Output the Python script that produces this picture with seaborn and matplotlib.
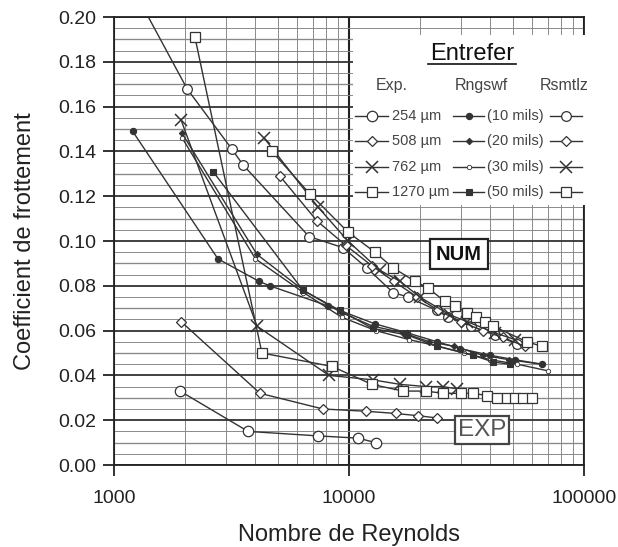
import numpy as np
import pandas as pd
import matplotlib
matplotlib.use("Agg")
import matplotlib.pyplot as plt
import seaborn as sns
from matplotlib.ticker import FixedLocator, MultipleLocator, NullFormatter

# --- data (Reynolds number, friction coefficient) ---
exp_254_re = [1910, 3720, 7380, 10900, 13000]
exp_254_f = [0.033, 0.015, 0.013, 0.012, 0.010]

exp_508_re = [1930, 4180, 7750, 11800, 15800, 19700, 23700]
exp_508_f = [0.064, 0.032, 0.025, 0.024, 0.023, 0.022, 0.021]

exp_762_re = [1930, 4060, 8220, 12650, 16500, 21300, 25100, 28800]
exp_762_f = [0.154, 0.062, 0.040, 0.038, 0.036, 0.035, 0.035, 0.034]

exp_1270_re = [2210, 4260, 8470, 12500, 17000, 21300, 25100, 30000, 33700,
               38700, 42600, 47000, 50900, 55000, 60100]
exp_1270_f = [0.191, 0.050, 0.044, 0.036, 0.033, 0.033, 0.032, 0.032, 0.032,
              0.031, 0.030, 0.030, 0.030, 0.030, 0.030]

rng_10_re = [1200, 2770, 4140, 4600, 8150, 12900, 17700, 23700, 29700, 39700, 50800, 66300]
rng_10_f = [0.149, 0.092, 0.082, 0.080, 0.071, 0.063, 0.059, 0.055, 0.052, 0.049, 0.047, 0.045]

rng_20_re = [1950, 4060, 6400, 9300, 12600, 17000, 22000, 28000, 37000, 48000, 66000]
rng_20_f = [0.148, 0.094, 0.078, 0.068, 0.062, 0.059, 0.055, 0.053, 0.049, 0.047, 0.045]

rng_30_re = [1950, 4000, 6400, 9300, 13000, 18000, 24000, 31000, 40000, 52000, 70500]
rng_30_f = [0.146, 0.092, 0.077, 0.066, 0.060, 0.056, 0.053, 0.050, 0.047, 0.045, 0.042]

rng_50_re = [2640, 6370, 9150, 12600, 17700, 23700, 33700, 41000, 48400]
rng_50_f = [0.131, 0.078, 0.069, 0.061, 0.058, 0.053, 0.049, 0.046, 0.045]

rsm_254_re = [1200, 2045, 3175, 3540, 6760, 9440, 11900, 15400, 17800, 23700, 26400, 33000, 42000, 52000]
rsm_254_f = [0.213, 0.168, 0.141, 0.134, 0.102, 0.097, 0.088, 0.077, 0.075, 0.069, 0.066, 0.062, 0.058, 0.054]

rsm_508_re = [5080, 7300, 9700, 12500, 15500, 19500, 24000, 30000, 37000, 45000, 56000]
rsm_508_f = [0.129, 0.109, 0.098, 0.089, 0.082, 0.075, 0.069, 0.064, 0.060, 0.057, 0.053]

rsm_762_re = [4350, 7400, 9900, 13500, 16500, 20000, 26900, 31800, 41800, 50800]
rsm_762_f = [0.146, 0.115, 0.100, 0.087, 0.082, 0.075, 0.067, 0.064, 0.059, 0.056]

rsm_1270_re = [4700, 6820, 9900, 12900, 15400, 19100, 21700, 25600, 28300, 31800,
               34700, 37900, 41000, 57200, 66200]
rsm_1270_f = [0.140, 0.121, 0.104, 0.095, 0.088, 0.082, 0.079, 0.073, 0.071, 0.068,
              0.066, 0.064, 0.062, 0.055, 0.053]

exp_labels = ["254 µm", "508 µm", "762 µm", "1270 µm"]
rng_labels = ["(10 mils)", "(20 mils)", "(30 mils)", "(50 mils)"]

INK = "#333333"

# marker styles: (marker, size, facecolor, edgewidth)
exp_styles = [("o", 7.5, "white", 0.9), ("D", 5.2, "white", 0.9),
              ("x", 8, "white", 1.1), ("s", 7.2, "white", 0.9)]
rng_styles = [("o", 4.5, INK, 0.8), ("D", 3.2, INK, 0.8),
              ("o", 3.2, "white", 0.6), ("s", 5.0, INK, 0.8)]
rsm_styles = [("o", 7.0, "white", 0.9), ("D", 5.0, "white", 0.9),
              ("x", 8, "white", 1.1), ("s", 7.2, "white", 0.9)]

exp_series = [(exp_254_re, exp_254_f), (exp_508_re, exp_508_f),
              (exp_762_re, exp_762_f), (exp_1270_re, exp_1270_f)]
rng_series = [(rng_10_re, rng_10_f), (rng_20_re, rng_20_f),
              (rng_30_re, rng_30_f), (rng_50_re, rng_50_f)]
rsm_series = [(rsm_254_re, rsm_254_f), (rsm_508_re, rsm_508_f),
              (rsm_762_re, rsm_762_f), (rsm_1270_re, rsm_1270_f)]

plt.rcParams["font.family"] = ["Liberation Sans", "DejaVu Sans"]

W, H = 618, 547
fig = plt.figure(figsize=(W / 100, H / 100), dpi=100)
ax = fig.add_axes([114 / W, (H - 465) / H, 470 / W, 448 / H])

ax.set_xscale("log")
ax.set_xlim(1000, 100000)
ax.set_ylim(0, 0.20)

# grid
ax.xaxis.set_major_locator(FixedLocator([1000, 10000, 100000]))
ax.xaxis.set_minor_locator(FixedLocator([m * 10 ** k for k in (3, 4) for m in range(2, 10)]))
ax.xaxis.set_minor_formatter(NullFormatter())
ax.yaxis.set_major_locator(MultipleLocator(0.02))
ax.yaxis.set_minor_locator(MultipleLocator(0.005))
ax.grid(which="minor", color="#8a8a8a", lw=0.7)
ax.grid(which="major", axis="y", color="#333333", lw=1.3)
ax.grid(which="major", axis="x", color="#222222", lw=1.5)
for yv in np.arange(0.01, 0.2, 0.02):
    ax.axhline(yv, color="#666666", lw=0.9, zorder=0.5)
ax.set_axisbelow(True)

for s in ax.spines.values():
    s.set_color("#222222")
    s.set_linewidth(1.3)

ax.tick_params(which="major", length=8, width=1.3, color="#222222", labelsize=14,
               labelcolor="#222222")
ax.tick_params(axis="x", which="major", pad=10)
ax.tick_params(axis="y", which="major", pad=5)
ax.tick_params(which="minor", length=0)
ax.yaxis.set_major_formatter(plt.FuncFormatter(lambda v, p: f"{v:.2f}"))
ax.xaxis.set_major_formatter(plt.FuncFormatter(lambda v, p: f"{v:.0f}"))

def draw(series, styles):
    for (re, f), (mk, ms, fc, mew) in zip(series, styles):
        df = pd.DataFrame({"Re": re, "f": f})
        sns.lineplot(data=df, x="Re", y="f", ax=ax, color=INK, lw=1.0,
                     marker=mk, markersize=ms, markerfacecolor=fc,
                     markeredgecolor=INK, markeredgewidth=mew,
                     estimator=None, sort=False, legend=False)

draw(exp_series, exp_styles)
draw(rng_series, rng_styles)
draw(rsm_series, rsm_styles)

ax.set_xlabel("Nombre de Reynolds", fontsize=17, color="#222222", labelpad=12)
ax.set_ylabel("Coefficient de frottement", fontsize=17, color="#222222", labelpad=16)

ax.text(29400, 0.0941, "NUM", fontsize=14.5, fontweight="bold", color="#111111",
        ha="center", va="center",
        bbox=dict(boxstyle="square,pad=0.28", fc="white", ec="#222222", lw=1.6))
ax.text(36800, 0.0156, "EXP", fontsize=17.5, color="#555555",
        ha="center", va="center",
        bbox=dict(boxstyle="square,pad=0.12", fc="white", ec="#444444", lw=1.6))

# legend block, drawn in its own pixel-space axes
lx0, lx1, ly0, ly1 = 353, 610, 35, 205
lax = fig.add_axes([lx0 / W, (H - ly1) / H, (lx1 - lx0) / W, (ly1 - ly0) / H])
lax.set_xlim(lx0, lx1)
lax.set_ylim(ly1, ly0)
lax.set_facecolor("white")
lax.set_axis_off()
lax.add_patch(plt.Rectangle((lx0, ly0), lx1 - lx0, ly1 - ly0, fc="white", ec="none", zorder=0))

lax.text(472, 54, "Entrefer", fontsize=17, ha="center", va="center", color="#111111")
lax.plot([428, 516], [64, 64], color="#111111", lw=1.2)
lax.text(392, 85, "Exp.", fontsize=11.5, ha="center", va="center", color="#444444")
lax.text(481, 85, "Rngswf", fontsize=11.5, ha="center", va="center", color="#444444")
lax.text(564, 85, "Rsmtlz", fontsize=11.5, ha="center", va="center", color="#444444")

cols = [(355, 388, exp_styles, exp_labels, 392),
        (453, 484, rng_styles, rng_labels, 487),
        (550, 582, rsm_styles, None, None)]
for i in range(4):
    yy = 116 + i * 25.4
    for xa, xb, styles, labels, tx in cols:
        mk, ms, fc, mew = styles[i]
        lax.plot([xa, xb], [yy, yy], color=INK, lw=1.0)
        lax.plot([(xa + xb) / 2], [yy], marker=mk, ms=ms, mfc=fc, mec=INK, mew=mew, color=INK)
        if labels is not None:
            lax.text(tx, yy, labels[i], fontsize=10.5, ha="left", va="center", color="#444444")

fig.savefig("out.png", dpi=100, facecolor="white")
